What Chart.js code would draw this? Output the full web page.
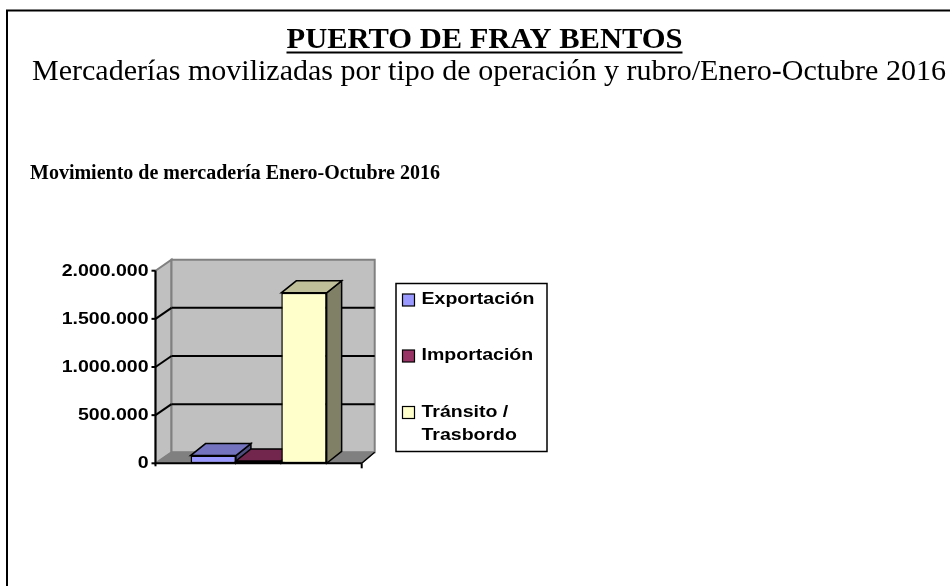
<!DOCTYPE html>
<html>
<head>
<meta charset="utf-8">
<script src="https://cdn.jsdelivr.net/npm/chart.js@4.4.1/dist/chart.umd.min.js"></script>
<style>
  html, body { margin: 0; padding: 0; background: #fff; }
  canvas { display: block; }
</style>
</head>
<body>
<canvas id="chart" width="950" height="586"></canvas>
<script>
// --- data ---
const pageTitle = 'PUERTO DE FRAY BENTOS';
const pageSubtitle = 'Mercaderías movilizadas por tipo de operación y rubro/Enero-Octubre 2016';
const chartTitle = 'Movimiento de mercadería Enero-Octubre 2016';
const categories = [''];
const seriesNames = ['Exportación', 'Importación', 'Tránsito / Trasbordo'];
const seriesValues = [80000, 25000, 1770000];
const seriesColors = ['#9999FF', '#993366', '#FFFFCC'];
const yTickValues = [0, 500000, 1000000, 1500000, 2000000];
const yTickLabels = ['0', '500.000', '1.000.000', '1.500.000', '2.000.000'];

// depth of the 3d box and bars
const WALL_DX_L = 16, WALL_DX_R = 13, WALL_DY = -11;
const BAR_DX = 15, BAR_DY = -12;
const SANS = "'Liberation Sans', Arial, sans-serif";
const SERIF = "'Liberation Serif', 'Times New Roman', serif";
const SX = 1.22; // sans text in the picture is drawn wide

function shade(hex, k) {
    const n = parseInt(hex.slice(1), 16);
    const r = Math.round(((n >> 16) & 255) * k);
    const g = Math.round(((n >> 8) & 255) * k);
    const b = Math.round((n & 255) * k);
    return 'rgb(' + r + ',' + g + ',' + b + ')';
}

function poly(ctx, pts, fill, stroke, lw) {
    ctx.beginPath();
    ctx.moveTo(pts[0][0], pts[0][1]);
    for (let i = 1; i < pts.length; i++) ctx.lineTo(pts[i][0], pts[i][1]);
    ctx.closePath();
    if (fill) { ctx.fillStyle = fill; ctx.fill(); }
    if (stroke) { ctx.strokeStyle = stroke; ctx.lineWidth = lw; ctx.stroke(); }
}

function line(ctx, x0, y0, x1, y1, color, lw) {
    ctx.beginPath();
    ctx.moveTo(x0, y0);
    ctx.lineTo(x1, y1);
    ctx.strokeStyle = color;
    ctx.lineWidth = lw;
    ctx.stroke();
}

// draw text squeezed/stretched to a given width (natural width if none given)
function fitText(ctx, text, x, y, font, width, align) {
    ctx.save();
    ctx.font = font;
    ctx.textBaseline = 'alphabetic';
    ctx.textAlign = 'left';
    const w = ctx.measureText(text).width;
    if (!width) width = w;
    const k = width / w;
    let x0 = x;
    if (align === 'center') x0 = x - width / 2;
    if (align === 'right') x0 = x - width;
    ctx.translate(x0, y);
    ctx.scale(k, 1);
    ctx.fillStyle = '#000';
    ctx.fillText(text, 0, 0);
    ctx.restore();
}

function wideText(ctx, text, x, y, font, align) {
    ctx.save();
    ctx.font = font;
    ctx.textBaseline = 'middle';
    ctx.textAlign = align;
    ctx.translate(x, y);
    ctx.scale(SX, 1);
    ctx.fillStyle = '#000';
    ctx.fillText(text, 0, 0);
    ctx.restore();
}

const box3d = {
    id: 'box3d',
    beforeDatasetsDraw(chart) {
        const ctx = chart.ctx;
        const a = chart.chartArea;
        const y = chart.scales.y;
        const dxAt = x => WALL_DX_L + (x - a.left) / (a.right - a.left) * (WALL_DX_R - WALL_DX_L);
        const back = (x, yy) => [x + dxAt(x), yy + WALL_DY];
        const yTop = y.getPixelForValue(yTickValues[yTickValues.length - 1]);
        const y0 = y.getPixelForValue(0);

        ctx.save();
        // side wall
        poly(ctx, [[a.left, yTop], back(a.left, yTop), back(a.left, y0), [a.left, y0]], '#C0C0C0', '#808080', 2);
        // back wall
        poly(ctx, [back(a.left, yTop), back(a.right, yTop), back(a.right, y0), back(a.left, y0)], '#C0C0C0', '#808080', 2);
        // floor
        poly(ctx, [[a.left, y0], back(a.left, y0), back(a.right, y0), [a.right, y0]], '#808080', '#808080', 1);
        const br = back(a.right, y0);
        line(ctx, a.right, y0, br[0], br[1], '#000', 1.5);

        // gridlines
        yTickValues.forEach(v => {
            if (v <= 0 || v >= yTickValues[yTickValues.length - 1]) return;
            const py = y.getPixelForValue(v);
            const b0 = back(a.left, py), b1 = back(a.right, py);
            line(ctx, a.left, py, b0[0], b0[1], '#000', 2);
            line(ctx, b0[0], b0[1], b1[0], b1[1], '#000', 2);
        });

        // side and top faces of the bars, left to right
        chart.data.datasets.forEach((ds, i) => {
            const bar = chart.getDatasetMeta(i).data[0];
            const p = bar.getProps(['x', 'y', 'base', 'width'], true);
            const x0 = p.x - p.width / 2, x1 = p.x + p.width / 2;
            const top = p.y, base = p.base;
            poly(ctx, [[x1, top], [x1 + BAR_DX, top + BAR_DY], [x1 + BAR_DX, base + BAR_DY], [x1, base]],
                shade(seriesColors[i], 0.5), '#000', 1.5);
            poly(ctx, [[x0, top], [x1, top], [x1 + BAR_DX, top + BAR_DY], [x0 + BAR_DX, top + BAR_DY]],
                shade(seriesColors[i], 0.75), '#000', 1.5);
        });
        ctx.restore();
    },
    afterDatasetsDraw(chart) {
        const ctx = chart.ctx;
        const a = chart.chartArea;
        const y = chart.scales.y;
        const y0 = y.getPixelForValue(0);
        const yTop = y.getPixelForValue(yTickValues[yTickValues.length - 1]);
        ctx.save();
        // axes
        line(ctx, a.left, yTop, a.left, y0 + 3, '#000', 2);
        line(ctx, a.left, y0, a.right, y0, '#000', 2);
        line(ctx, a.right, y0, a.right, y0 + 5, '#000', 2);
        yTickValues.forEach((v, i) => {
            const py = y.getPixelForValue(v);
            line(ctx, a.left - 4, py, a.left, py, '#000', 2);
            wideText(ctx, yTickLabels[i], a.left - 7, py + 0.5, 'bold 16px ' + SANS, 'right');
        });

        // legend
        const lx = 396, ly = 283.5, lw = 151, lh = 168;
        ctx.lineWidth = 1.5;
        ctx.strokeStyle = '#000';
        ctx.strokeRect(lx, ly, lw, lh);
        const rows = [[300], [356], [412.5, 436]];
        chart.data.datasets.forEach((ds, i) => {
            const lines = ds.label.replace(' / ', ' /\n').split('\n');
            const cy = rows[i][0];
            ctx.fillStyle = seriesColors[i];
            ctx.fillRect(402.5, cy - 6, 12, 12);
            ctx.lineWidth = 1.2;
            ctx.strokeRect(402.5, cy - 6, 12, 12);
            lines.forEach((t, j) => wideText(ctx, t, 421.5, rows[i][j], 'bold 16px ' + SANS, 'left'));
        });

        // page texts
        fitText(ctx, pageTitle, 484.5, 48, 'bold 30px ' + SERIF, 396, 'center');
        line(ctx, 286.5, 52.5, 682.5, 52.5, '#000', 2);
        fitText(ctx, pageSubtitle, 32, 80, '30px ' + SERIF, 914, 'left');
        fitText(ctx, chartTitle, 30, 179, 'bold 20px ' + SERIF, null, 'left');

        // page frame
        line(ctx, 7, 10.5, 7, 586, '#000', 2);
        line(ctx, 6, 10.5, 950, 10.5, '#000', 2);
        ctx.restore();
    }
};

new Chart(document.getElementById('chart').getContext('2d'), {
    type: 'bar',
    data: {
        labels: categories,
        datasets: seriesNames.map((name, i) => ({
            label: name,
            data: [seriesValues[i]],
            backgroundColor: seriesColors[i],
            borderColor: '#000',
            borderWidth: 1.5,
            borderSkipped: false,
            categoryPercentage: 0.66,
            barPercentage: 1
        }))
    },
    options: {
        responsive: false,
        animation: false,
        layout: { padding: { left: 155.5, top: 270.7, right: 588.3, bottom: 122.7 } },
        plugins: {
            legend: { display: false },
            title: { display: false },
            tooltip: { enabled: false }
        },
        scales: {
            x: { display: false },
            y: { display: false, min: 0, max: 2000000 }
        }
    },
    plugins: [box3d]
});
</script>
</body>
</html>
